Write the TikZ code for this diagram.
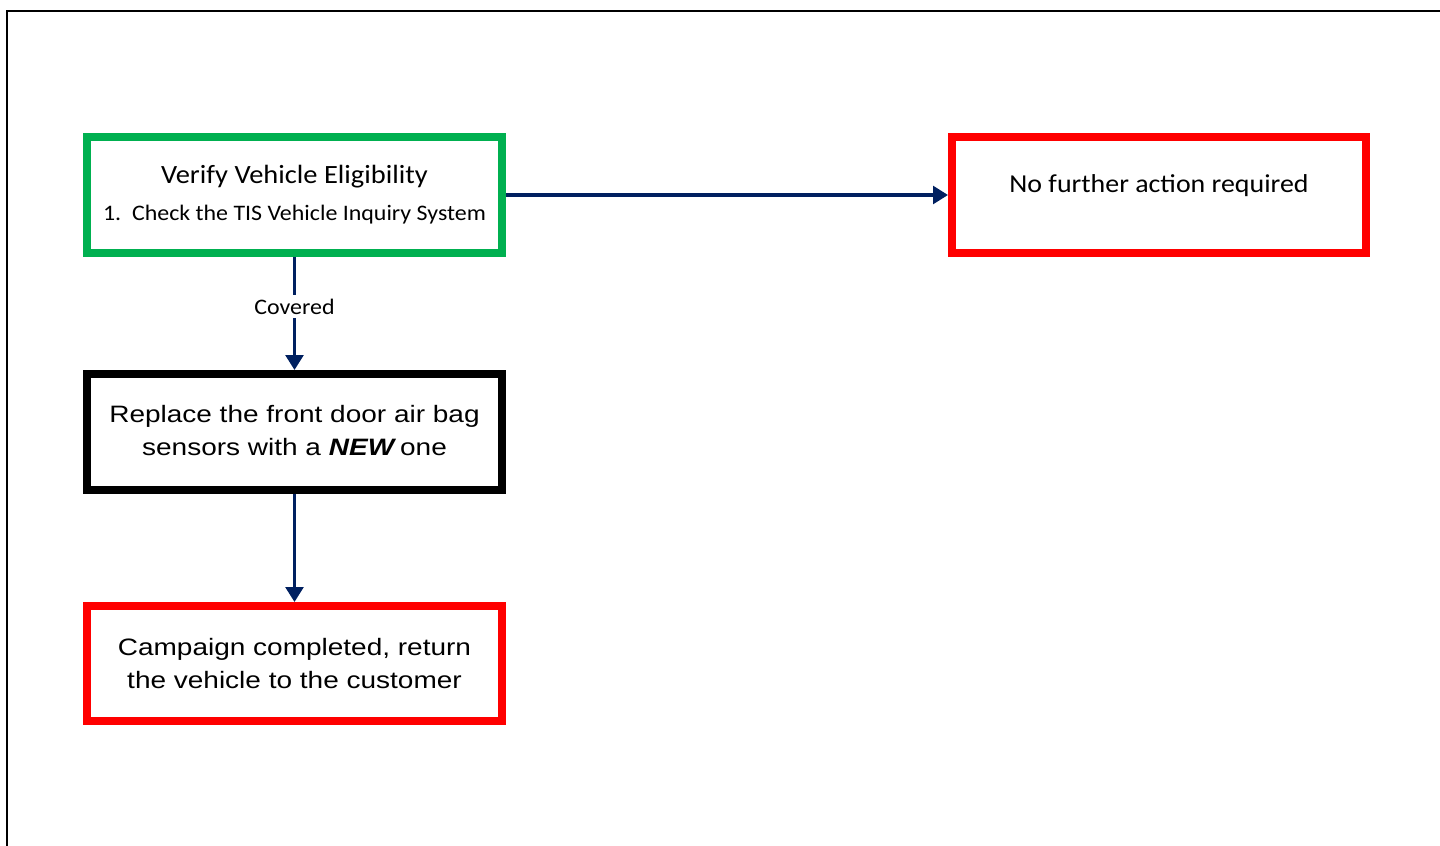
\documentclass[tikz,border=0pt]{standalone}
\usepackage{fontspec}
\setmainfont[FakeStretch=1.08]{Carlito}
\newfontfamily\arialfont[FakeStretch=1.18]{Liberation Sans}
\usetikzlibrary{arrows.meta}

\definecolor{boxgreen}{HTML}{00B050}
\definecolor{boxred}{HTML}{FF0000}
\definecolor{flownavy}{HTML}{002060}

\begin{document}
\begin{tikzpicture}[
        box/.style={rectangle, line width=4.5pt, minimum width=8.3cm, minimum height=2.32cm, align=center, fill=white, inner sep=0pt},
        calibritext/.style={font=\fontsize{15}{21}\selectfont},
        arialtext/.style={font=\arialfont\fontsize{13.5}{18.7}\selectfont},
        flow/.style={line width=2pt, draw=flownavy, -{Triangle[width=10pt,length=8.5pt]}}
    ]

    % Page size and outer frame
    \useasboundingbox (0,0) rectangle (28.8,-16.92);
    \clip (0,0) rectangle (28.8,-16.92);
    \draw[line width=1.2pt] (0.14,-18) -- (0.14,-0.22) -- (30,-0.22);

    % First check
    \node[box, draw=boxgreen, calibritext] (verify) at (5.89,-3.9)
        {Verify Vehicle Eligibility\\{\fontsize{12.6}{21}\selectfont 1.\ \ Check the TIS Vehicle Inquiry System}};

    % Not covered
    \node[box, draw=boxred, minimum width=8.28cm, font=\fontsize{14.7}{18}\selectfont] (noaction) at (23.18,-3.9)
        {\raisebox{1.2pt}[0pt][0pt]{No further action required}};

    % Covered: repair
    \node[box, draw=black, arialtext] (replace) at (5.89,-8.64)
        {\raisebox{1.5pt}{Replace the front door air bag}\\\raisebox{1.5pt}{sensors with a \textbf{\textit{NEW}}\,one}};

    % Done
    \node[box, draw=boxred, arialtext, minimum height=2.3cm] (campaign) at (5.89,-13.27)
        {Campaign completed, return\\the vehicle to the customer};

    % Connections
    \draw[flow] (verify.east) -- (noaction.west);
    \draw[flow] (verify.south) -- node[pos=0.44, fill=white, inner sep=2pt, font=\fontsize{12.6}{14}\selectfont] (covered) {Covered} (replace.north);
    \draw[flow] (replace.south) -- (campaign.north);

\end{tikzpicture}
\end{document}
